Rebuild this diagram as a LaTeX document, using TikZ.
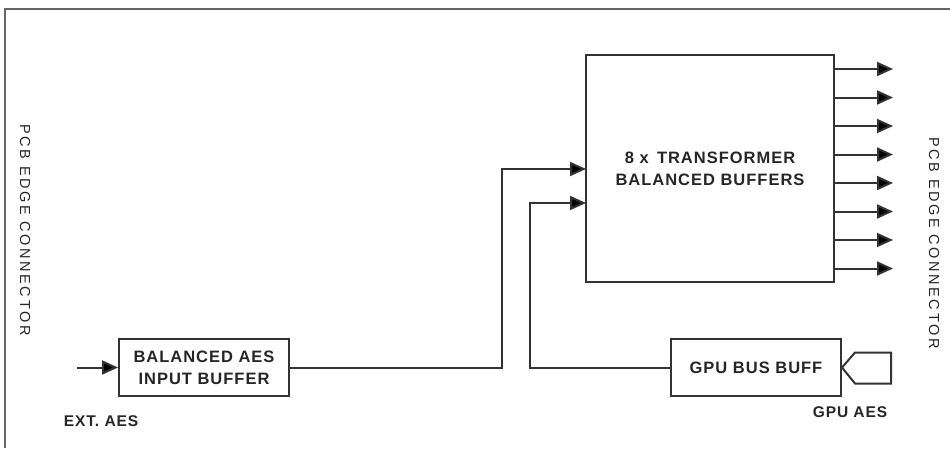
\documentclass[tikz,border=0pt]{standalone}
\usepackage{fontspec}
\setmainfont{Liberation Sans}
\newfontfamily\lab[LetterSpace=6]{Liberation Sans Bold}
\newfontfamily\labs[LetterSpace=18]{Liberation Sans}
\usetikzlibrary{arrows.meta}
\definecolor{ln}{HTML}{333333}
\definecolor{tx}{HTML}{262626}
\tikzset{
  blk/.style={draw=ln, line width=2pt, rectangle, inner sep=0pt, align=center, text=tx, font=\lab\fontsize{16.5}{22}\selectfont},
  arr/.style={draw=ln, line width=2pt, -{Triangle[length=16pt,width=14pt,fill=black]}},
  wire/.style={draw=ln, line width=2pt},
  lbl/.style={font=\lab\fontsize{15.5}{17}\selectfont, inner sep=0pt, text=tx},
  side/.style={font=\labs\fontsize{14.5}{16}\selectfont, inner sep=0pt, text=tx, rotate=-90}
}
\begin{document}
\begin{tikzpicture}[x=1pt,y=-1pt]
\useasboundingbox (0,0) rectangle (950,448);
\fill[white] (0,0) rectangle (950,448);
\draw[draw=gray!80!black, line width=1.5pt] (5,448) -- (5,9) -- (950,9);

\node[blk, minimum width=248pt, minimum height=227pt] (big) at (710,168.5) {8 x\, TRANSFORMER\\BALANCED BUFFERS};
\node[blk, minimum width=170pt, minimum height=57pt] (bal) at (204,367.5) {BALANCED AES\\INPUT BUFFER};
\node[blk, minimum width=170pt, minimum height=57pt] (gpu) at (756,367.5) {GPU BUS BUFF};

\coordinate (ext) at (77,367.5);
\coordinate (in1) at (586,169);
\coordinate (in2) at (586,203);
\draw[arr] (ext) -- (bal.west);
\draw[arr] (bal.east) -| (502,169) -- (in1);
\draw[arr] (gpu.west) -| (530,203) -- (in2);

\foreach \i in {0,...,7}{
  \draw[arr] (big.east) ++(0,{-99.5+28.5*\i}) -- ++(58,0);
}

\draw[wire, line join=miter] (gpu.east) -- ++(13,-15) -- ++(36,0) -- ++(0,31) -- ++(-36,0) -- cycle;

\node[lbl] (ext-l) at (101,421) {EXT. AES};
\node[lbl] (gpu-l) at (850,412) {GPU AES};
\node[side] (pcbl) at (25,230) {PCB EDGE CONNECTOR};
\node[side] (pcbr) at (934,243) {PCB EDGE CONNECTOR};
\end{tikzpicture}
\end{document}
